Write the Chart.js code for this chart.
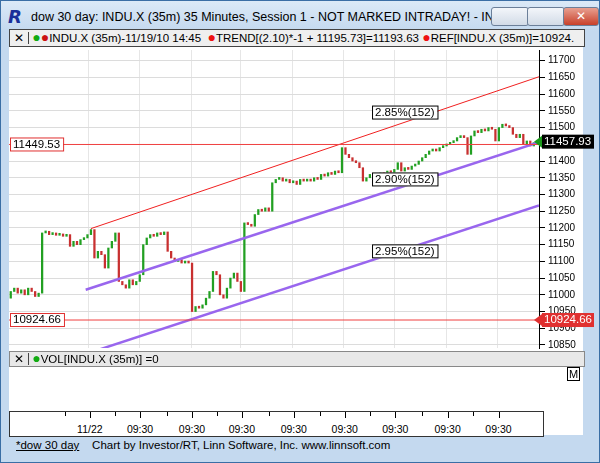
<!DOCTYPE html>
<html><head><meta charset="utf-8">
<script src="https://cdn.jsdelivr.net/npm/chart.js@4"></script>
<style>
body{margin:0;width:600px;height:463px;overflow:hidden;font-family:"Liberation Sans",Arial,sans-serif;background:#fff}
#win{position:absolute;left:0;top:0;width:598px;height:461px;border:1px solid #3a6ea5;background:linear-gradient(#dbe9f7,#c4d9ef 30px,#c4d9ef)}
.abs{position:absolute;white-space:nowrap}
#title{left:30px;top:9px;font-size:12.5px;color:#000}
#info{left:8px;top:28px;width:574px;height:16px;background:#efefef;border:1px solid #444;font-size:11.5px;line-height:16px}
#vol{left:8px;top:350px;width:574px;height:14px;background:#e8e8e8;border:1px solid #888;font-size:11.5px;line-height:14px}
#inner{left:8px;top:44px;width:574px;height:390px;background:#fff}
#taxis{left:8px;top:410px;width:533px;height:24px;background:#fff;border:1px solid #333;font-size:10.5px}
#foot{left:8px;top:438px;font-size:11.5px}
.btn{top:6px;width:36px;height:17px;border:1px solid #6b7f99;border-radius:3px;background:linear-gradient(#f3f6fa,#d2dbe7)}
.dot{font-size:14px;line-height:10px}
</style></head><body>
<div id="win">
<div class="abs" style="left:7px;top:5px;font:bold italic 18px 'DejaVu Sans';color:#1a2f9a">R</div>
<div class="abs" id="title">dow 30 day: INDU.X (35m) 35 Minutes, Session 1 - NOT MARKED INTRADAY! - IN...</div>
<div class="abs btn" style="left:490px"></div><div class="abs btn" style="left:526px"></div>
<div class="abs btn" style="left:562px;width:34px;background:linear-gradient(#e8a090,#c8402a);color:#fff;text-align:center;font-size:12px;line-height:17px">✕</div>
<div class="abs" id="inner"></div>
<div class="abs" style="left:8px;top:40px;width:590px;height:316px"><canvas id="c"></canvas></div>
<div class="abs" id="info"><span style="border-right:1px solid #444;padding:0 4px">✕</span> <span class="dot" style="color:#1a1">●</span><span class="dot" style="color:#c11">●</span>INDU.X (35m)-11/19/10 14:45 &nbsp;<span class="dot" style="color:#e11">●</span>TREND[(2.10)*-1 + 11195.73]=11193.63 <span class="dot" style="color:#e11">●</span>REF[INDU.X (35m)]=10924.</div>
<div class="abs" id="vol"><span style="border-right:1px solid #444;padding:0 4px">✕</span> <span class="dot" style="color:#1a1">●</span>VOL[INDU.X (35m)] =0</div>
<div class="abs" style="left:566px;top:366px;font-size:11px;border:1px solid #000;padding:0 1px;line-height:12px">M</div>
<div class="abs" id="taxis"></div>
<div class="abs" id="foot"><u style="margin-left:7px">*dow 30 day</u> &nbsp;&nbsp; Chart by Investor/RT, Linn Software, Inc. www.linnsoft.com</div>
</div>
<script>
const closes = [
11010,11020,11005,11015,11000,11020,11010,10995,11005,
11185,11190,11180,11185,11178,11182,11175,11180,
11145,11160,11150,11165,11170,11180,11195,
11110,11130,11120,11080,11140,11160,
11185,11040,
11030,11020,11045,11030,11040,11060,
11150,11170,11180,11175,11185,11180,11188,11130,
11110,11100,11105,11095,11100,11095,
10950,10965,10960,10970,10990,11010,
11070,11060,11000,10990,
11020,11050,11065,11040,11010,
11215,11210,11205,11240,
11255,11250,11260,11250,
11335,11345,11350,11340,11345,11335,11340,11330,11345,11340,
11345,11340,11350,11345,11360,11355,11365,11360,11370,11365,
11440,11420,11410,11400,11395,11380,
11340,11350,11360,11350,11355,11365,
11360,11370,11365,11375,11395,11370,
11380,11375,11385,11390,11400,11410,
11420,11430,11435,11430,11440,11445,
11450,11455,11460,11470,11475,11470,
11420,11475,11490,11485,
11495,11490,11500,11495,11460,11500,
11510,11505,11500,11480,11470,11480,
11450,11460,11445,11455];
const firstOpen = 10990;
const trendUpper = [{x:23,y:11198},{x:151.5,y:11652}];
const trendMid = [{x:21.5,y:11015},{x:151.5,y:11456}];
const trendLow = [{x:-0.5,y:10748},{x:151.5,y:11267}];
const refHigh = 11449.53, refLow = 10924.66, lastPrice = 11457.93;
const channelLabels = [{text:'2.85%(152)',x:113,y:11545},{text:'2.90%(152)',x:113,y:11345},{text:'2.95%(152)',x:113,y:11130}];
const dayTicks = [22.4,36.8,51.7,66,80.9,95.5,110,125,139.6];
const timeLabels = ['11/22','09:30','09:30','09:30','09:30','09:30','09:30','09:30','09:30'];
const yTicks = [10850,10900,10950,11000,11050,11100,11150,11200,11250,11300,11350,11400,11450,11500,11550,11600,11650,11700];

const bars = closes.map((c,i)=>({x:i,y:[i?closes[i-1]:firstOpen,c]}));
const barColors = bars.map(b=>b.y[1]>=b.y[0]?'#22a022':'#c83030');

const overlay = {
  id:'overlay',
  afterDatasetsDraw(chart){
    const {ctx,scales:{x,y},chartArea:a}=chart;
    ctx.save();
    ctx.font='11.5px "Liberation Sans"';ctx.textBaseline='middle';
    channelLabels.forEach(l=>{
      const px=x.getPixelForValue(l.x),py=y.getPixelForValue(l.y);
      const w=ctx.measureText(l.text).width+6;
      ctx.fillStyle='#fff';ctx.fillRect(px-w/2,py-7,w,14);
      ctx.strokeStyle='#000';ctx.lineWidth=1;ctx.strokeRect(px-w/2+.5,py-6.5,w,13);
      ctx.fillStyle='#000';ctx.textAlign='center';ctx.fillText(l.text,px,py);
    });
    [refHigh,refLow].forEach(v=>{
      const py=y.getPixelForValue(v);const t=v.toFixed(2);
      const w=ctx.measureText(t).width+6;
      ctx.fillStyle='#fff';ctx.fillRect(a.left+1,py-7,w,14);
      ctx.strokeStyle='#e03030';ctx.strokeRect(a.left+1.5,py-6.5,w,13);
      ctx.fillStyle='#000';ctx.textAlign='left';ctx.fillText(t,a.left+4,py);
    });
    const drawR=(v,bg)=>{
      const py=y.getPixelForValue(v);const t=v.toFixed(2);
      ctx.fillStyle=bg;ctx.fillRect(a.right+3,py-7,52,14);
      ctx.fillStyle='#fff';ctx.textAlign='left';ctx.fillText(t,a.right+5,py);
      ctx.fillStyle=bg==='#000'?'#1a9a1a':bg;
      ctx.beginPath();ctx.moveTo(a.right+3,py-6);ctx.lineTo(a.right-5,py);ctx.lineTo(a.right+3,py+6);ctx.fill();
    };
    drawR(lastPrice,'#000');drawR(refLow,'#e03030');
    ctx.restore();
  }
};

new Chart(document.getElementById('c'),{
  type:'bar',
  data:{datasets:[
    {type:'line',data:[{x:-0.5,y:refHigh},{x:151.5,y:refHigh}],borderColor:'#f04040',borderWidth:1,pointRadius:0},
    {type:'line',data:[{x:-0.5,y:refLow},{x:151.5,y:refLow}],borderColor:'#f04040',borderWidth:1,pointRadius:0},
    {type:'line',data:trendUpper,borderColor:'#f02020',borderWidth:1,pointRadius:0},
    {type:'line',data:trendMid,borderColor:'#9966ee',borderWidth:2.5,pointRadius:0},
    {type:'line',data:trendLow,borderColor:'#9966ee',borderWidth:2.5,pointRadius:0},
    {data:bars,backgroundColor:barColors,barThickness:1.6,minBarLength:2,grouped:false}
  ]},
  options:{
    animation:false,responsive:true,maintainAspectRatio:false,
    layout:{padding:0},
    plugins:{legend:{display:false},tooltip:{enabled:false}},
    scales:{
      x:{type:'linear',min:-0.5,max:151.5,offset:false,display:true,
        afterBuildTicks:s=>{s.ticks=dayTicks.map(v=>({value:v}));},
        ticks:{display:false},border:{display:false},
        grid:{color:'#e6e6e6',drawTicks:false,offset:false}},
      y:{position:'right',min:10841,max:11732,
        afterBuildTicks:s=>{s.ticks=yTicks.map(v=>({value:v}));},
        afterFit:s=>{s.width=60;},
        ticks:{color:'#000',font:{size:10,family:'Liberation Sans'},padding:3,callback:v=>String(v)},
        border:{color:'#000'},
        grid:{color:'#dcdcdc',tickColor:'#000',tickLength:6,borderDash:[2,3]}}
    }
  },
  plugins:[overlay]
});

const tx=document.getElementById('taxis');
const pxOf=v=>(v+0.5)*530/152;
dayTicks.forEach((v,i)=>{
  const p=pxOf(v);
  tx.insertAdjacentHTML('beforeend',`<div class="abs" style="left:${p}px;top:0;width:1px;height:6px;background:#000"></div><div class="abs" style="left:${p-14}px;top:11px;width:28px;text-align:center">${timeLabels[i]}</div>`);
  const h=pxOf(v-7.2);
  tx.insertAdjacentHTML('beforeend',`<div class="abs" style="left:${h}px;top:0;width:1px;height:4px;background:#000"></div>`);
});
</script>
</body></html>
